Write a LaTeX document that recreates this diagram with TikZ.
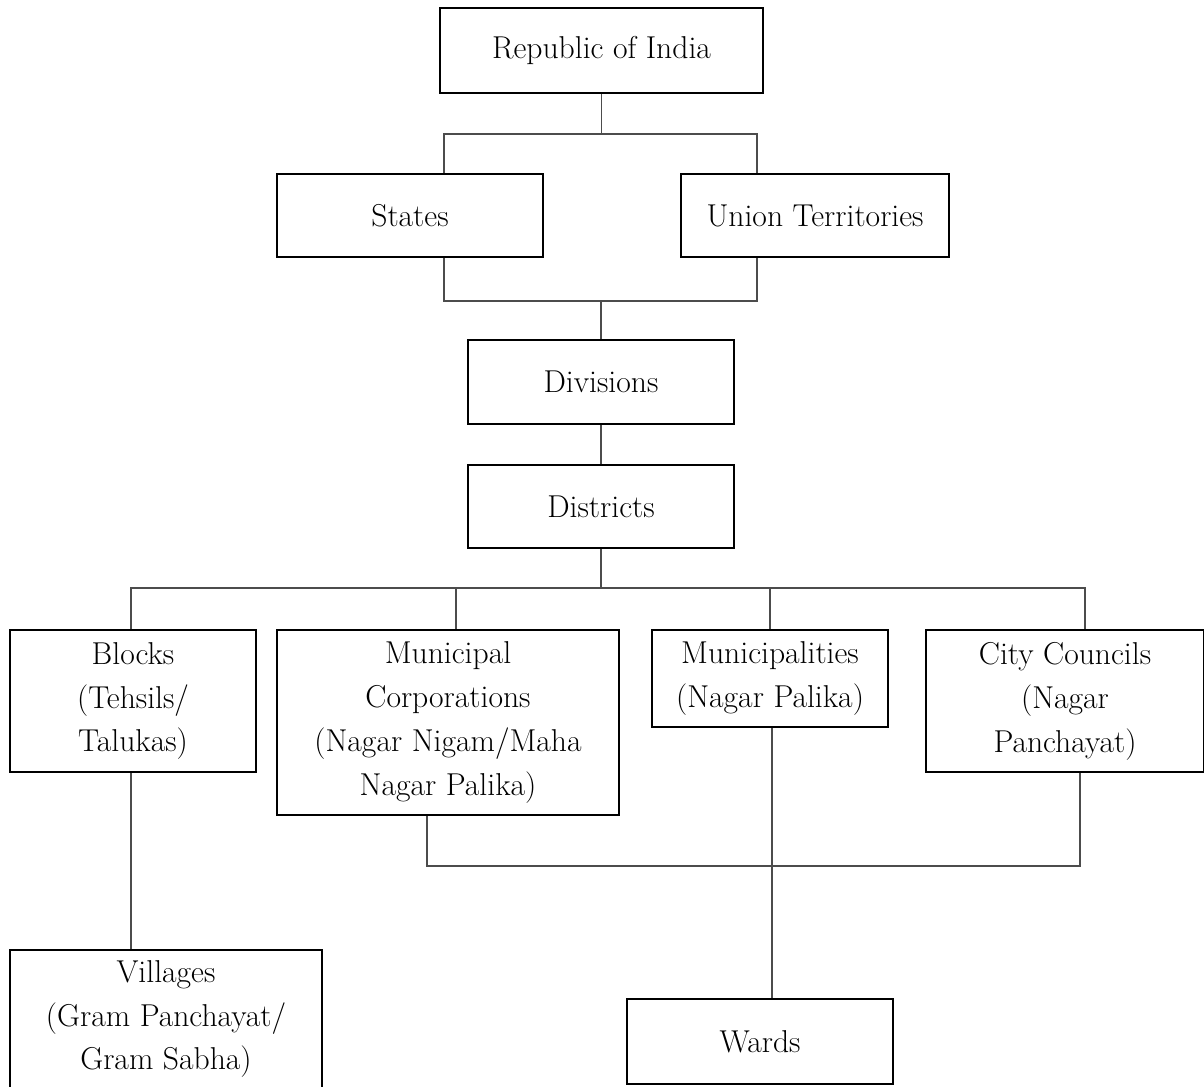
\documentclass[tikz,border=0pt]{standalone}
\usepackage{amsmath}

\begin{document}
\begin{tikzpicture}[x=0.02cm,y=-0.02cm,
  unit/.style={draw, line width=1.6pt, inner sep=0pt, align=center,
    font=\fontsize{18}{25}\selectfont},
  link/.style={draw=black!70, line width=1.1pt}]
  \useasboundingbox (0,0) rectangle (1204,1087);
  \clip (0,0) rectangle (1204,1087);
  \node[unit, minimum width=6.46cm, minimum height=1.70cm] (india) at (601.5,50.5) {Republic of India};
  \node[unit, minimum width=5.32cm, minimum height=1.66cm] (states) at (410,215.5) {States};
  \node[unit, minimum width=5.36cm, minimum height=1.66cm] (ut) at (815,215.5) {Union Territories};
  \node[unit, minimum width=5.32cm, minimum height=1.68cm] (div) at (601,382) {Divisions};
  \node[unit, minimum width=5.32cm, minimum height=1.66cm] (dist) at (601,506.5) {Districts};
  \node[unit, minimum width=4.92cm, minimum height=2.84cm] (blocks) at (133,701) {Blocks\\(Tehsils/\\Talukas)};
  \node[unit, minimum width=6.84cm, minimum height=3.70cm] (mcorp) at (448,722.5) {Municipal\\Corporations\\(Nagar Nigam/Maha\\Nagar Palika)};
  \node[unit, minimum width=4.72cm, minimum height=1.94cm] (mpal) at (770,678.5) {Municipalities\\(Nagar Palika)};
  \node[unit, minimum width=5.56cm, minimum height=2.84cm] (city) at (1065,701) {City Councils\\(Nagar\\Panchayat)};
  \node[unit, minimum width=6.24cm, minimum height=2.76cm] (vill) at (166,1019) {Villages\\(Gram Panchayat/\\Gram Sabha)};
  \node[unit, minimum width=5.32cm, minimum height=1.70cm] (wards) at (760,1041.5) {Wards};
  % top levels
  \draw[link] (india.south) -- ++(0,40) coordinate (b1);
  \draw[link] ([xshift=0.68cm]states.north) |- (b1) -| ([xshift=-1.16cm]ut.north);
  \draw[link] ([xshift=0.68cm]states.south) -- ++(0,43) coordinate (b2) -| ([xshift=-1.16cm]ut.south);
  \draw[link] (b2 -| div.north) -- (div.north);
  \draw[link] (div) -- (dist);
  % districts
  \draw[link] (dist.south) -- ++(0,39) coordinate (b3);
  \draw[link] ([xshift=-0.04cm]blocks.north) |- (b3) -| ([xshift=0.40cm]city.north);
  \draw[link] ([xshift=0.16cm]mcorp.north) -- ([xshift=0.16cm]mcorp.north |- b3);
  \draw[link] (mpal.north) -- (mpal.north |- b3);
  % lower levels
  \draw[link] ([xshift=-0.42cm]mcorp.south) -- ++(0,50) coordinate (b4) -| ([xshift=0.30cm]city.south);
  \draw[link] ([xshift=0.04cm]mpal.south) -- ([xshift=0.04cm]mpal.south |- wards.north);
  \draw[link] ([xshift=-0.04cm]blocks.south) -- ([xshift=-0.04cm]blocks.south |- vill.north);
\end{tikzpicture}
\end{document}
